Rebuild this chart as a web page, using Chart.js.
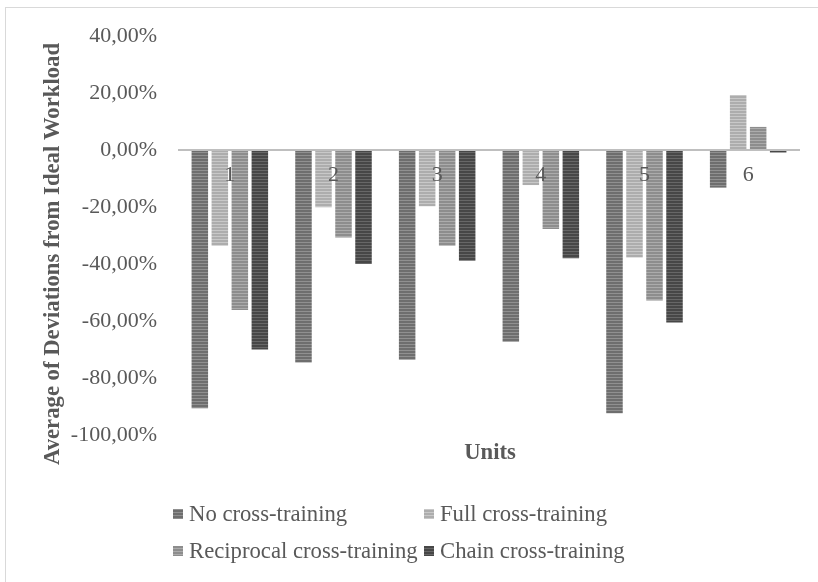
<!DOCTYPE html>
<html>
<head>
<meta charset="utf-8">
<script src="https://cdn.jsdelivr.net/npm/chart.js@4/dist/chart.umd.min.js"></script>
<style>
html,body{margin:0;padding:0;background:#fff;}
canvas{display:block;}
</style>
</head>
<body>
<canvas id="c" width="818" height="582"></canvas>
<script>
// ---- data ----
const units = ['1', '2', '3', '4', '5', '6'];
const seriesNames = ['No cross-training', 'Full cross-training', 'Reciprocal cross-training', 'Chain cross-training'];
const noCross = [-90.6, -74.6, -73.6, -67.3, -92.4, -13.2];
const fullCross = [-33.6, -20.1, -19.7, -12.3, -37.7, 19.3];
const reciprocalCross = [-56.1, -30.7, -33.6, -27.7, -52.8, 8.1];
const chainCross = [-70.0, -40.0, -38.9, -38.0, -60.5, -0.9];
const yTitle = 'Average of Deviations from Ideal Workload';
const xTitle = 'Units';
const yMin = -100, yMax = 40, yStep = 20;

// ---- styling ----
const FONT = "'Liberation Serif', 'Times New Roman', serif";
const TEXT = '#595959';
function stripe(base, light) {
  const c = document.createElement('canvas');
  c.width = 4; c.height = 3;
  const g = c.getContext('2d');
  g.fillStyle = base; g.fillRect(0, 0, 4, 3);
  g.fillStyle = light; g.fillRect(0, 2, 4, 1);
  return g.createPattern(c, 'repeat');
}
const fills = [
  stripe('#6e6e6e', '#909090'),
  stripe('#adadad', '#c8c8c8'),
  stripe('#8d8d8d', '#ababab'),
  stripe('#474747', '#676767')
];
const seriesData = [noCross, fullCross, reciprocalCross, chainCross];

const decor = {
  id: 'decor',
  beforeDraw(chart) {
    const ctx = chart.ctx;
    ctx.save();
    ctx.strokeStyle = '#d9d9d9';
    ctx.lineWidth = 1;
    ctx.strokeRect(5.5, 7.5, 900, 700);
    ctx.restore();
  },
  afterDraw(chart) {
    const ctx = chart.ctx;
    ctx.save();
    ctx.fillStyle = TEXT;
    // y title
    ctx.font = 'bold 22.7px ' + FONT;
    ctx.textAlign = 'center';
    ctx.textBaseline = 'alphabetic';
    ctx.translate(59, 254);
    ctx.rotate(-Math.PI / 2);
    ctx.fillText(yTitle, 0, 0);
    ctx.restore();
    ctx.save();
    ctx.fillStyle = TEXT;
    ctx.font = 'bold 22.7px ' + FONT;
    ctx.textAlign = 'center';
    ctx.textBaseline = 'alphabetic';
    ctx.fillText(xTitle, 490, 459);
    // legend
    ctx.font = '22.7px ' + FONT;
    ctx.textAlign = 'left';
    const cols = [173, 424];
    const rows = [521, 558];
    chart.data.datasets.forEach((ds, i) => {
      const x = cols[i % 2], y = rows[Math.floor(i / 2)];
      ctx.fillStyle = ds.backgroundColor;
      ctx.fillRect(x, y - 12, 10, 10);
      ctx.fillStyle = TEXT;
      ctx.fillText(ds.label, x + 16, y);
    });
    ctx.restore();
  }
};

new Chart(document.getElementById('c'), {
  type: 'bar',
  data: {
    labels: units,
    datasets: seriesNames.map((name, i) => ({
      label: name,
      data: seriesData[i],
      backgroundColor: fills[i],
      borderWidth: 0,
      categoryPercentage: 0.772,
      barPercentage: 0.825
    }))
  },
  options: {
    responsive: false,
    animation: false,
    devicePixelRatio: 1,
    layout: { padding: { left: 0, top: 36, right: 18, bottom: 147 } },
    plugins: { legend: { display: false }, tooltip: { enabled: false } },
    scales: {
      x: {
        position: { y: 0 },
        grid: { display: false, drawTicks: false },
        border: { display: false },
        ticks: {
          z: 1,
          autoSkip: false, maxRotation: 0, padding: 12,
          color: TEXT, font: { family: FONT, size: 22 }
        },
        afterFit(s) { s.height = 0; }
      },
      y: {
        min: yMin, max: yMax,
        grid: {
          drawTicks: false,
          lineWidth: 2,
          color: c => (c.tick && c.tick.value === 0) ? '#bfbfbf' : 'rgba(0,0,0,0)'
        },
        border: { display: false },
        ticks: {
          stepSize: yStep, padding: 21,
          color: TEXT, font: { family: FONT, size: 22 },
          callback: v => v.toFixed(2).replace('.', ',') + '%'
        },
        afterFit(s) { s.width = 178; }
      }
    }
  },
  plugins: [decor]
});
</script>
</body>
</html>
